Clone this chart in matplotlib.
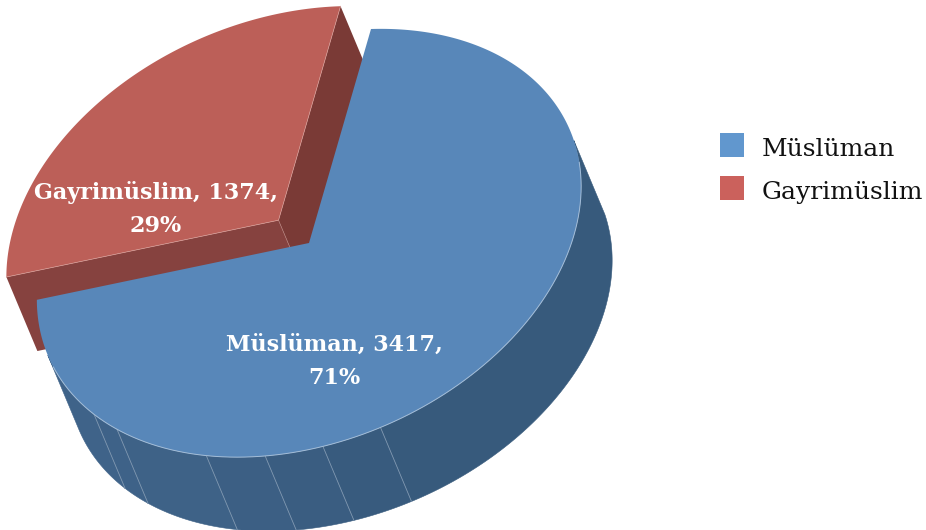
import numpy as np
import matplotlib
matplotlib.use("Agg")
import matplotlib.pyplot as plt
from matplotlib.patches import Rectangle

# data
categories = ["Müslüman", "Gayrimüslim"]
values = [3417, 1374]
percent_labels = ["71%", "29%"]
facet_angles = [151.6, 163.9, 176.1, 189.0, 211.7, 219.0]

# style
top_colors = ["#5887b9", "#bc5f58"]
legend_colors = ["#6197ce", "#cb615c"]
facet_colors = ["#375a7c", "#385b7e", "#3a5d81", "#3c5f84", "#3e6287", "#3e6288", "#3f6389"]
apex = np.array([309.0, 243.0])
u = np.array([62.0, -214.0])
v = np.array([265.0, -8.0])
depth = np.array([31.0, 74.0])
explode = 0.18

W, H = 926, 530
fig = plt.figure(figsize=(W / 100, H / 100), dpi=100)
ax = fig.add_axes([0, 0, 1, 1])
ax.set_xlim(0, W)
ax.set_ylim(H, 0)
ax.axis("off")

edges = np.concatenate([[0], np.cumsum(values)]) / np.sum(values) * 360.0


def rim(deg, centre):
    r = np.radians(deg)
    return centre + np.outer(np.cos(r), u) + np.outer(np.sin(r), v)


# Gayrimüslim slice, pushed out along its mid direction
mid = np.radians((edges[1] + edges[2]) / 2)
c_red = apex + explode * (np.cos(mid) * u + np.sin(mid) * v)
arc_red = rim(np.linspace(edges[1], edges[2], 200), c_red)
a0, a1 = arc_red[0], arc_red[-1]
ax.fill(*np.array([c_red, a1, a1 + depth, c_red + depth]).T, color="#7a3a36", lw=0, zorder=1)
ax.fill(*np.array([c_red, a0, a0 + depth, c_red + depth]).T, color="#86423f", lw=0, zorder=1.1)
ax.plot([c_red[0], c_red[0] + depth[0]], [c_red[1], c_red[1] + depth[1]],
        color="#b07a75", lw=0.5, zorder=1.2)
ax.fill(*np.vstack([c_red, arc_red]).T, color=top_colors[1], lw=0, zorder=1.3)
ax.plot(*np.array([a1, c_red, a0]).T, color="#d69a94", lw=0.5, zorder=1.4)

# Müslüman outer wall, between the two points where the rim's tangent runs along the depth
tangent = np.degrees(np.arctan2(v[0] * depth[1] - v[1] * depth[0], u[0] * depth[1] - u[1] * depth[0]))
bounds = [tangent + 3] + facet_angles + [tangent + 180]
for i in range(len(bounds) - 1):
    rr = rim(np.linspace(bounds[i], bounds[i + 1], 200), apex)
    ax.fill(*np.vstack([rr, (rr + depth)[::-1]]).T, facecolor=facet_colors[i],
            edgecolor=facet_colors[i], lw=0.4, zorder=2)
for phi in facet_angles:
    p = rim(np.array([phi]), apex)[0]
    ax.plot([p[0], p[0] + depth[0]], [p[1], p[1] + depth[1]], color="#7f97b0", lw=0.6, zorder=2.1)

# Müslüman top
arc_blue = rim(np.linspace(edges[0], edges[1], 500), apex)
ax.fill(*np.vstack([apex, arc_blue]).T, color=top_colors[0], lw=0, zorder=3)
vis = rim(np.linspace(70, edges[1] - 20, 300), apex)
ax.plot(*vis.T, color="#a3bdd8", lw=0.7, zorder=3.1)

label_font = dict(family="DejaVu Serif", weight="bold", color="white", fontsize=16,
                  ha="center", va="center", zorder=4)
ax.text(334.5, 345, f"{categories[0]}, {values[0]},", **label_font)
ax.text(334.5, 378, percent_labels[0], **label_font)
ax.text(156, 193, f"{categories[1]}, {values[1]},", **label_font)
ax.text(156, 226, percent_labels[1], **label_font)

for name, col, y in zip(categories, legend_colors, [145, 188]):
    ax.add_patch(Rectangle((720, y - 12), 24, 24, facecolor=col, edgecolor="none", zorder=4))
    ax.text(762, y + 5, name, family="DejaVu Serif", fontsize=18, color="#111111",
            ha="left", va="center", zorder=4)

fig.savefig("out.png", dpi=100, facecolor="white")
